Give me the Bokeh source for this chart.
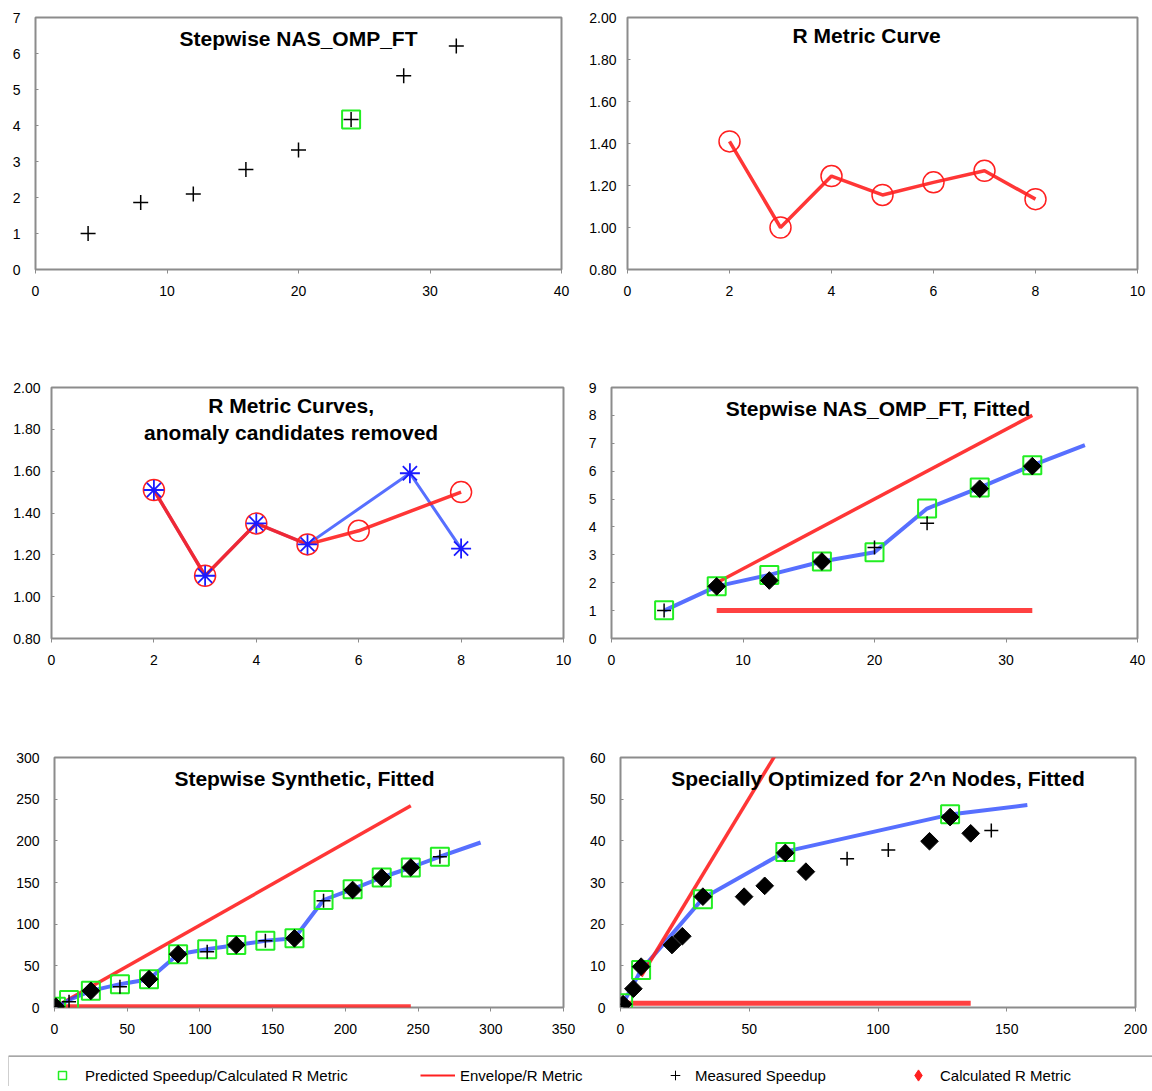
import math
from bokeh.plotting import figure
from bokeh.models import (Range1d, FixedTicker, NumeralTickFormatter, Label, Legend, LegendItem,
                          ColumnDataSource, Span)
from bokeh.layouts import column, row
from bokeh.embed import file_html
from bokeh.resources import INLINE

# ---------------- data ----------------
# Panel 1: Stepwise NAS_OMP_FT
nas_nodes = [4, 8, 12, 16, 20, 24, 28, 32]
nas_measured = [1.0, 1.86, 2.10, 2.78, 3.32, 4.17, 5.38, 6.21]
nas_anomaly_x = [24]
nas_anomaly_y = [4.17]

# Panel 2: R Metric Curve
r_x = [2, 3, 4, 5, 6, 7, 8]
r_vals = [1.41, 1.00, 1.245, 1.155, 1.215, 1.27, 1.135]

# Panel 3: R Metric Curves, anomaly candidates removed
r_clean_x = [2, 3, 4, 5, 6, 8]
r_clean_vals = [1.51, 1.10, 1.35, 1.25, 1.315, 1.50]
r_raw_x = [2, 3, 4, 5, 7, 8]
r_raw_vals = [1.51, 1.10, 1.35, 1.25, 1.59, 1.23]

# Panel 4: Stepwise NAS_OMP_FT, Fitted
fit_nodes = [4, 8, 12, 16, 20, 24, 28, 32]
fit_measured = [1.0, 1.87, 2.08, 2.76, 3.26, 4.13, 5.37, 6.18]
fit_predicted = [1.01, 1.87, 2.28, 2.76, 3.09, 4.66, 5.41, 6.21]
fit_calc_x = [8, 12, 16, 28, 32]
fit_calc_y = [1.87, 2.08, 2.76, 5.37, 6.18]
fit_curve_x = [4, 8, 12, 16, 20, 24, 28, 32, 36]
fit_curve_y = [1.0, 1.87, 2.28, 2.76, 3.09, 4.66, 5.41, 6.21, 6.93]
fit_env_x = [8, 32]
fit_env_y = [2.0, 8.0]
fit_base_x = [8, 32]
fit_base_y = [1.0, 1.0]

# Panel 5: Stepwise Synthetic, Fitted
syn_nodes = [1, 10, 25, 45, 65, 85, 105, 125, 145, 165, 185, 205, 225, 245, 265]
syn_predicted = [1, 9, 20, 28, 34, 64, 70, 75, 80, 83, 129, 142, 156, 168, 181]
syn_measured = [1, 7, 20, 25, 34, 64, 67, 75, 80, 83, 128, 142, 156, 169, 181]
syn_calc_x = [1, 25, 65, 85, 125, 165, 205, 225, 245]
syn_calc_y = [1, 20, 34, 64, 75, 83, 141, 156, 168]
syn_curve_x = [1, 10, 25, 45, 65, 85, 105, 125, 145, 165, 185, 205, 225, 245, 265, 293]
syn_curve_y = [1, 9, 20, 28, 34, 64, 70, 75, 80, 83, 129, 142, 156, 168, 181, 198]
syn_env_x = [5, 245]
syn_env_y = [5, 242]
syn_base_x = [5, 245]
syn_base_y = [1, 1]

# Panel 6: Specially Optimized for 2^n Nodes, Fitted
opt_nodes = [1, 5, 8, 20, 24, 32, 48, 56, 64, 72, 88, 104, 120, 128, 136, 144]
opt_measured = [0.8, 4.5, 9.8, 15.0, 17.1, 26.6, 26.6, 29.2, 37.1, 32.6, 35.7, 37.8, 39.9, 45.7, 41.8, 42.5]
opt_calc_x = [1, 5, 8, 20, 24, 32, 48, 56, 64, 72, 120, 128, 136]
opt_calc_y = [0.8, 4.5, 9.8, 15.0, 17.1, 26.6, 26.6, 29.2, 37.1, 32.6, 39.9, 45.7, 41.8]
opt_pred_x = [1, 8, 32, 64, 128]
opt_pred_y = [1.0, 9.0, 26.0, 37.3, 46.4]
opt_curve_x = [1, 8, 32, 64, 128, 158]
opt_curve_y = [1.0, 9.0, 26.2, 37.4, 46.3, 48.6]
opt_env_x = [8, 62]
opt_env_y = [7.5, 62.5]
opt_base_x = [3, 136]
opt_base_y = [1, 1]

legend_labels = ["Predicted Speedup/Calculated R Metric", "Envelope/R Metric",
                 "Measured Speedup", "Calculated R Metric"]

# ---------------- styles ----------------
FONT = "Liberation Sans"
GREEN = "#22ee22"
RED = "#ff2020"
BLUE = "#2d4bff"
GRAY = "#8c8c8c"


def make_fig(w, h, xr, yr, xt, yt, left, right, top, bottom, ystand, decimals=False):
    p = figure(width=w, height=h, x_range=Range1d(*xr), y_range=Range1d(*yr),
               output_backend="svg", toolbar_location=None,
               min_border_left=left, min_border_right=right,
               min_border_top=top, min_border_bottom=bottom)
    p.xgrid.visible = False
    p.ygrid.visible = False
    p.outline_line_color = GRAY
    p.outline_line_width = 2
    p.background_fill_color = "white"
    p.border_fill_color = "white"
    for ax in (p.xaxis[0], p.yaxis[0]):
        ax.axis_line_color = None
        ax.minor_tick_line_color = None
        ax.major_label_text_font = FONT
        ax.major_label_text_font_size = "14px"
        ax.major_label_text_color = "black"
        ax.major_tick_line_color = GRAY
    p.xaxis[0].ticker = FixedTicker(ticks=xt)
    p.yaxis[0].ticker = FixedTicker(ticks=yt)
    p.xaxis[0].major_tick_out = 4
    p.xaxis[0].major_tick_in = 0
    p.xaxis[0].major_label_standoff = 12
    p.yaxis[0].major_tick_out = 0
    p.yaxis[0].major_tick_in = 3
    p.yaxis[0].major_label_standoff = ystand
    if decimals:
        p.yaxis[0].formatter = NumeralTickFormatter(format="0.00")
    return p


def title(p, x, y, text):
    p.add_layout(Label(x=x, y=y, text=text, text_align="center", text_baseline="middle",
                       text_font=FONT, text_font_style="bold", text_font_size="21px",
                       text_color="black"))


def pluses(p, x, y, size=14):
    p.scatter(x, y, marker="cross", size=size, line_color="black", line_width=1.5)


def squares(p, x, y):
    p.scatter(x, y, marker="square", size=18, line_color=GREEN, fill_color=None, line_width=2)


def diamonds(p, x, y):
    p.scatter(x, y, marker="square", angle=math.pi / 4, size=12.5,
              line_color="black", fill_color="black")


# Panel 1
p1 = make_fig(576, 370, (0, 40), (0, 7), [0, 10, 20, 30, 40], list(range(0, 8)),
              35, 15, 17, 101, 15)
squares(p1, nas_anomaly_x, nas_anomaly_y)
pluses(p1, nas_nodes, nas_measured, 15)
title(p1, 20.0, 6.42, "Stepwise NAS_OMP_FT")

# Panel 2
p2 = make_fig(576, 370, (0, 10), (0.8, 2.0), [0, 2, 4, 6, 8, 10],
              [0.8, 1.0, 1.2, 1.4, 1.6, 1.8, 2.0], 51, 15, 17, 98, 11, decimals=True)
p2.line(r_x, r_vals, line_color=RED, line_width=3.5, line_alpha=0.9)
p2.scatter(r_x, r_vals, marker="circle", size=21, line_color=RED, fill_color=None, line_width=1.5)
title(p2, 4.69, 1.915, "R Metric Curve")

# Panel 3
p3 = make_fig(576, 370, (0, 10), (0.8, 2.0), [0, 2, 4, 6, 8, 10],
              [0.8, 1.0, 1.2, 1.4, 1.6, 1.8, 2.0], 51, 13, 17, 98, 11, decimals=True)
p3.line(r_raw_x, r_raw_vals, line_color=BLUE, line_width=3, line_alpha=0.8)
p3.line(r_clean_x, r_clean_vals, line_color=RED, line_width=3.5, line_alpha=0.9)
p3.scatter(r_clean_x, r_clean_vals, marker="circle", size=21, line_color=RED, fill_color=None, line_width=1.5)
p3.scatter(r_raw_x, r_raw_vals, marker="asterisk", size=20, line_color="#1a1aff", line_width=1.8)
title(p3, 4.68, 1.915, "R Metric Curves,")
title(p3, 4.68, 1.783, "anomaly candidates removed")

# Panel 4
p4 = make_fig(576, 370, (0, 40), (0, 9), [0, 10, 20, 30, 40], list(range(0, 10)),
              35, 15, 17, 102, 15)
p4.line(fit_env_x, fit_env_y, line_color=RED, line_width=3.5, line_alpha=0.9)
p4.line(fit_base_x, fit_base_y, line_color=RED, line_width=5, line_alpha=0.85)
p4.line(fit_curve_x, fit_curve_y, line_color=BLUE, line_width=4, line_alpha=0.8)
squares(p4, fit_nodes, fit_predicted)
pluses(p4, fit_nodes, fit_measured)
diamonds(p4, fit_calc_x, fit_calc_y)
title(p4, 20.27, 8.25, "Stepwise NAS_OMP_FT, Fitted")

# Panel 5
p5 = make_fig(576, 310, (0, 350), (0, 300), [0, 50, 100, 150, 200, 250, 300, 350],
              [0, 50, 100, 150, 200, 250, 300], 54, 13, 17, 43, 15)
p5.line(syn_env_x, syn_env_y, line_color=RED, line_width=3.5, line_alpha=0.9)
p5.line(syn_base_x, syn_base_y, line_color=RED, line_width=5, line_alpha=0.85)
p5.line(syn_curve_x, syn_curve_y, line_color=BLUE, line_width=4, line_alpha=0.8)
squares(p5, syn_nodes, syn_predicted)
pluses(p5, syn_nodes, syn_measured)
diamonds(p5, syn_calc_x, syn_calc_y)
title(p5, 171.9, 274.9, "Stepwise Synthetic, Fitted")

# Panel 6
p6 = make_fig(576, 310, (0, 200), (0, 60), [0, 50, 100, 150, 200],
              [0, 10, 20, 30, 40, 50, 60], 44, 17, 17, 43, 15)
p6.line(opt_base_x, opt_base_y, line_color=RED, line_width=5, line_alpha=0.85)
p6.line(opt_curve_x, opt_curve_y, line_color=BLUE, line_width=4, line_alpha=0.8)
p6.line(opt_env_x, opt_env_y, line_color=RED, line_width=3.5, line_alpha=0.9)
squares(p6, opt_pred_x, opt_pred_y)
pluses(p6, opt_nodes, opt_measured)
diamonds(p6, opt_calc_x, opt_calc_y)
title(p6, 100, 55.0, "Specially Optimized for 2^n Nodes, Fitted")

# Legend strip (legend swatches use renderers whose points lie outside the view)
pl = figure(width=1152, height=36, x_range=Range1d(0, 1), y_range=Range1d(0, 1),
            output_backend="svg", toolbar_location=None, x_axis_type=None, y_axis_type=None,
            min_border_left=8, min_border_right=0, min_border_top=5, min_border_bottom=0)
pl.xgrid.visible = False
pl.ygrid.visible = False
pl.outline_line_color = None
pl.add_layout(Span(location=1, dimension="width", line_color="#8a8a8a", line_width=2.5))
pl.add_layout(Span(location=0, dimension="height", line_color="#a0a0a0", line_width=1))
off = dict(x=[5, 6], y=[5, 6])
r1 = pl.scatter(x="x", y="y", source=ColumnDataSource(off), marker="square",
                line_color=GREEN, fill_color=None, line_width=1.5)
r2 = pl.line(x="x", y="y", source=ColumnDataSource(off), line_color=RED, line_width=2)
r3 = pl.scatter(x="x", y="y", source=ColumnDataSource(off), marker="cross",
                line_color="black", line_width=1)
r4 = pl.scatter(x="x", y="y", source=ColumnDataSource(off), marker="diamond",
                line_color=RED, fill_color=RED)

# (label, renderer, x offset, glyph size, label standoff, y offset)
for lab, rend, lx, gw, gh, stand, ly in [(legend_labels[0], r1, 44, 20, 20, 13, 1),
                                         (legend_labels[1], r2, 412, 35, 20, 5, 1),
                                         (legend_labels[2], r3, 655, 24, 24, 8, -1),
                                         (legend_labels[3], r4, 896, 28, 28, 8, -3)]:
    lg = Legend(items=[LegendItem(label=lab, renderers=[rend])], location=(lx, ly),
                orientation="horizontal", glyph_width=gw, glyph_height=gh, label_height=20,
                label_standoff=stand, label_text_font=FONT, label_text_font_size="15px",
                label_text_color="black", border_line_color=None, background_fill_alpha=0,
                padding=0, margin=0, spacing=0)
    pl.add_layout(lg)

layout = column(row(p1, p2), row(p3, p4), row(p5, p6), pl)
open("out.html", "w").write(file_html(layout, INLINE))
